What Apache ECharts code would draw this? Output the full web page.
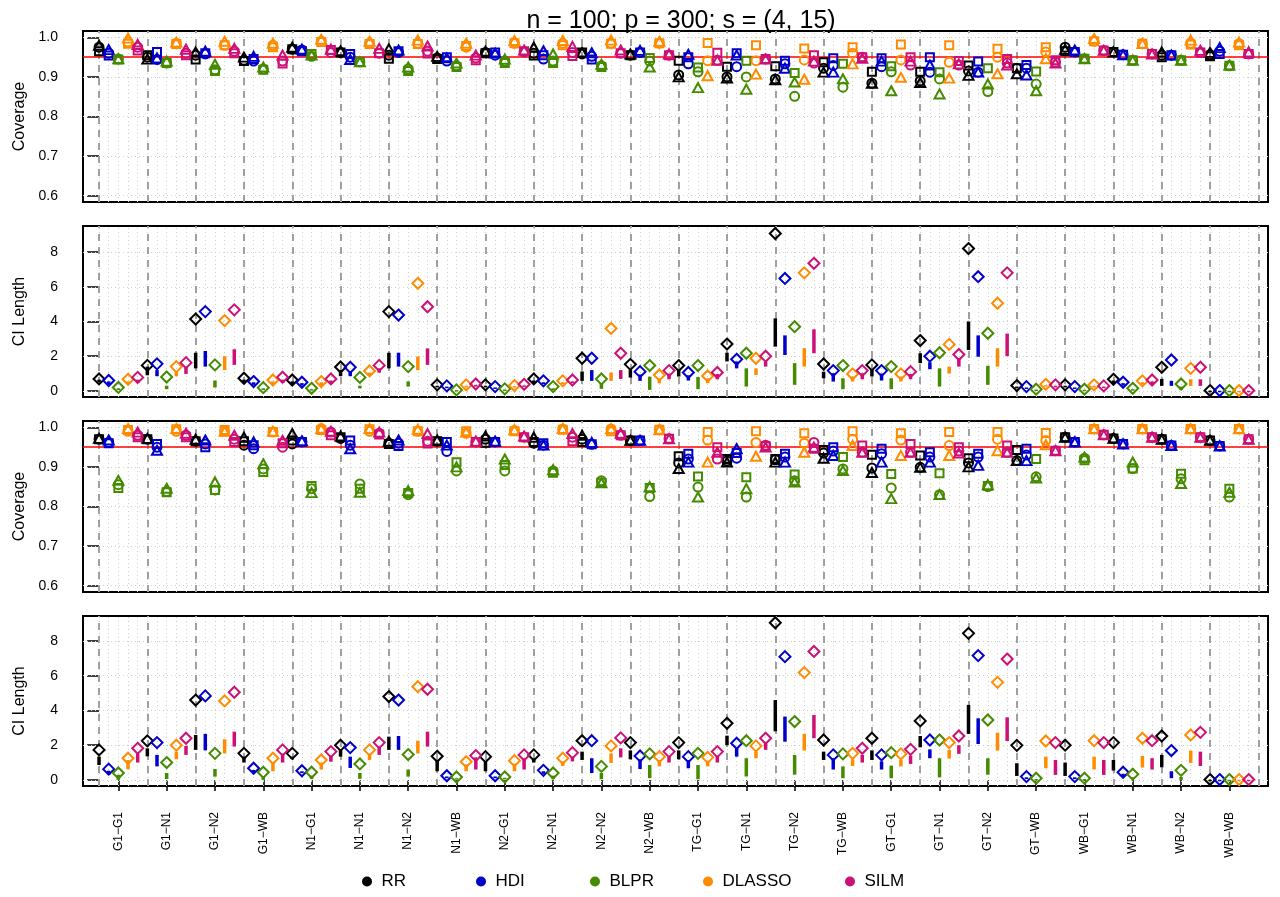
<!DOCTYPE html>
<html><head><meta charset="utf-8">
<script src="https://cdn.jsdelivr.net/npm/echarts@6/dist/echarts.min.js"></script>
<style>html,body{margin:0;padding:0;background:#fff}#chart{width:1280px;height:897px}</style>
</head><body><div id="chart"></div>
<script>
// ---------------- data ----------------
const groups = ['G1-G1','G1-N1','G1-N2','G1-WB','N1-G1','N1-N1','N1-N2','N1-WB','N2-G1','N2-N1','N2-N2','N2-WB',
  'TG-G1','TG-N1','TG-N2','TG-WB','GT-G1','GT-N1','GT-N2','GT-WB','WB-G1','WB-N1','WB-N2','WB-WB'];
const methods = ['RR','HDI','BLPR','DLASSO','SILM'];
const titleText = 'n = 100; p = 300; s = (4, 15)';
const covTicks = [0.6, 0.7, 0.8, 0.9, 1.0];
const lenTicks = [0, 2, 4, 6, 8];
const nominal = 0.95;

// rows = groups, columns = methods (RR, HDI, BLPR, DLASSO, SILM)
const covTopSquare = [
 [.965,.954,.944,.984,.967],[.955,.963,.935,.983,.955],[.944,.96,.915,.98,.96],[.94,.945,.918,.975,.934],
 [.97,.965,.958,.988,.968],[.962,.958,.938,.983,.96],[.946,.965,.915,.983,.959],[.945,.95,.925,.978,.942],
 [.96,.962,.935,.985,.965],[.954,.955,.935,.98,.953],[.962,.944,.925,.984,.96],[.955,.962,.948,.985,.955],
 [.941,.95,.924,.986,.961],[.926,.96,.941,.98,.945],[.927,.941,.91,.972,.955],[.937,.947,.933,.975,.95],
 [.913,.947,.927,.982,.95],[.913,.95,.912,.98,.94],[.929,.939,.922,.971,.945],[.922,.93,.914,.975,.942],
 [.965,.963,.946,.99,.967],[.963,.956,.942,.984,.958],[.95,.955,.942,.982,.962],[.952,.958,.928,.98,.958]];
const covTopCircle = [
 [.975,.96,.945,.988,.975],[.95,.944,.935,.985,.96],[.955,.958,.918,.98,.965],[.942,.94,.92,.98,.94],
 [.97,.968,.952,.99,.962],[.962,.95,.938,.985,.96],[.955,.962,.92,.985,.965],[.948,.94,.928,.975,.948],
 [.962,.955,.94,.985,.963],[.96,.945,.94,.985,.962],[.958,.952,.928,.985,.96],[.955,.962,.94,.985,.955],
 [.905,.933,.913,.941,.942],[.9,.926,.9,.941,.945],[.895,.933,.851,.943,.935],[.922,.929,.874,.96,.95],
 [.884,.926,.913,.943,.93],[.89,.912,.895,.937,.93],[.915,.912,.863,.95,.935],[.922,.922,.882,.963,.937],
 [.975,.963,.946,.99,.967],[.963,.956,.942,.984,.958],[.955,.955,.942,.985,.962],[.956,.965,.928,.984,.958]];
const covTopTriangle = [
 [.98,.969,.946,.998,.982],[.945,.948,.94,.988,.97],[.963,.965,.932,.99,.972],[.95,.952,.925,.985,.955],
 [.975,.97,.955,.995,.97],[.966,.944,.938,.99,.972],[.971,.968,.925,.993,.978],[.952,.948,.935,.985,.955],
 [.965,.96,.945,.992,.968],[.975,.966,.958,.992,.977],[.962,.961,.932,.993,.968],[.958,.967,.925,.99,.958],
 [.9,.957,.873,.903,.942],[.897,.955,.869,.907,.945],[.893,.922,.887,.894,.94],[.912,.912,.895,.933,.947],
 [.884,.94,.865,.899,.94],[.886,.93,.857,.897,.933],[.904,.912,.882,.908,.93],[.908,.905,.865,.946,.935],
 [.97,.968,.946,.997,.967],[.963,.956,.942,.984,.958],[.963,.955,.942,.993,.967],[.962,.974,.93,.988,.963]];

const covBotSquare = [
 [.97,.96,.847,.993,.975],[.97,.958,.836,.995,.975],[.965,.95,.842,.993,.963],[.965,.955,.887,.988,.96],
 [.967,.963,.852,.993,.98],[.975,.967,.845,.995,.982],[.958,.953,.834,.99,.959],[.965,.963,.912,.99,.963],
 [.961,.963,.905,.99,.975],[.963,.96,.885,.994,.965],[.963,.957,.86,.99,.98],[.967,.967,.847,.994,.971],
 [.927,.933,.876,.988,.95],[.92,.935,.874,.99,.952],[.92,.933,.881,.985,.946],[.943,.95,.925,.99,.954],
 [.931,.946,.882,.985,.958],[.929,.937,.884,.988,.95],[.922,.933,.852,.988,.954],[.943,.946,.92,.986,.941],
 [.975,.963,.917,.996,.981],[.972,.958,.896,.996,.975],[.97,.954,.883,.996,.975],[.967,.953,.845,.996,.97]];
const covBotCircle = [
 [.97,.962,.855,.99,.98],[.97,.95,.838,.99,.98],[.965,.958,.842,.99,.97],[.955,.946,.895,.988,.95],
 [.958,.963,.845,.997,.988],[.972,.955,.857,.99,.985],[.96,.96,.83,.99,.965],[.965,.939,.89,.985,.963],
 [.97,.963,.89,.992,.975],[.96,.955,.89,.996,.975],[.97,.957,.865,.996,.98],[.967,.967,.825,.994,.971],
 [.91,.92,.849,.968,.92],[.915,.922,.824,.962,.955],[.918,.925,.865,.96,.962],[.935,.94,.895,.97,.937],
 [.897,.933,.847,.968,.937],[.899,.925,.83,.954,.94],[.91,.925,.85,.97,.937],[.916,.93,.875,.967,.941],
 [.975,.963,.922,.996,.981],[.972,.958,.896,.996,.975],[.97,.954,.87,.996,.975],[.967,.953,.824,.996,.97]];
const covBotTriangle = [
 [.972,.968,.866,.997,.988],[.972,.942,.846,.997,.985],[.97,.968,.862,.99,.98],[.975,.963,.908,.99,.967],
 [.984,.966,.835,.997,.99],[.978,.946,.836,.997,.988],[.965,.968,.84,.995,.984],[.968,.955,.9,.988,.965],
 [.978,.965,.92,.994,.978],[.975,.955,.893,.997,.984],[.98,.962,.86,.996,.985],[.967,.967,.85,.994,.971],
 [.896,.912,.824,.912,.937],[.912,.946,.845,.927,.95],[.912,.912,.862,.937,.95],[.922,.929,.891,.954,.937],
 [.886,.912,.82,.929,.937],[.899,.912,.83,.929,.935],[.9,.904,.855,.941,.937],[.916,.916,.872,.956,.941],
 [.975,.963,.925,.996,.981],[.972,.958,.912,.996,.975],[.97,.954,.858,.996,.975],[.967,.953,.836,.996,.97]];

const lenTopMark = [
 [.69,.6,.2,.67,.78],[1.47,1.56,.8,1.4,1.63],[4.14,4.57,1.5,4.05,4.67],[.73,.54,.19,.63,.79],
 [.63,.5,.15,.54,.69],[1.38,1.36,.78,1.15,1.47],[4.57,4.37,1.4,6.2,4.85],[.35,.29,.06,.35,.4],
 [.35,.25,.12,.31,.38],[.69,.58,.25,.58,.63],[1.88,1.88,.69,3.6,2.17],[1.53,1.11,1.46,.92,1.17],
 [1.46,1.06,1.46,.86,1.06],[2.7,1.82,2.17,1.88,2.0],[9.07,6.48,3.7,6.8,7.35],[1.55,1.17,1.46,.98,1.17],
 [1.5,1.17,1.4,.98,1.11],[2.9,2.0,2.2,2.68,2.1],[8.2,6.58,3.32,5.05,6.8],[.31,.25,.1,.38,.35],
 [.35,.25,.1,.35,.29],[.67,.5,.15,.58,.63],[1.36,1.78,.4,1.3,1.36],[.02,.02,.02,.02,.02]];
const lenTopLow = [
 [.5,.35,.05,.4,.45],[.9,.85,.1,.85,.98],[1.3,1.4,.2,1.2,1.5],[.45,.35,.05,.35,.45],
 [.4,.3,.02,.3,.4],[.85,.85,.15,.9,1.05],[1.3,1.4,.25,1.2,1.5],[.2,.2,.02,.2,.25],
 [.2,.15,.02,.2,.25],[.45,.4,.05,.4,.45],[.58,.58,.12,.58,.69],[.77,.58,.06,.44,.67],
 [.83,.6,.1,.44,.67],[1.7,1.3,.25,.92,1.4],[2.55,2.07,.35,1.4,2.17],[.73,.54,.1,.54,.67],
 [.83,.6,.1,.54,.67],[1.6,1.25,.25,1.0,1.4],[2.36,1.97,.35,1.4,2.0],[.15,.15,.02,.25,.2],
 [.2,.15,.02,.2,.18],[.45,.3,.03,.38,.4],[.29,.29,.06,.29,.29],[0,0,0,0,0]];
const lenTopHigh = [
 [.65,.55,.15,.55,.65],[1.4,1.2,.3,1.15,1.4],[2.2,2.3,.6,2.0,2.4],[.65,.5,.15,.55,.65],
 [.55,.45,.1,.5,.6],[1.2,1.1,.3,1.05,1.3],[2.2,2.2,.55,1.98,2.45],[.3,.25,.05,.3,.35],
 [.3,.2,.08,.28,.32],[.6,.5,.15,.5,.55],[1.12,1.2,.44,1.06,1.2],[1.2,.95,.82,.73,1.0],
 [1.2,.9,.8,.73,.98],[2.2,1.7,1.3,1.3,1.7],[4.18,3.2,1.6,2.46,3.55],[1.11,1.02,.73,.83,1.02],
 [1.2,1.0,.73,.83,.98],[2.17,1.65,1.3,1.4,1.9],[4.0,3.2,1.45,2.46,3.3],[.25,.2,.08,.33,.3],
 [.3,.2,.07,.3,.25],[.6,.45,.1,.5,.55],[.69,.58,.25,.67,.67],[.01,.01,.01,.01,.01]];

const lenBotMark = [
 [1.73,.62,.4,1.25,1.82],[2.25,2.15,1.0,2.0,2.4],[4.6,4.84,1.53,4.55,5.05],[1.53,.67,.44,1.25,1.73],
 [1.53,.53,.44,1.15,1.63],[2.0,1.86,.92,1.73,2.15],[4.8,4.6,1.46,5.37,5.22],[1.36,.24,.17,1.05,1.4],
 [1.34,.24,.17,1.11,1.44],[1.44,.55,.4,1.25,1.57],[2.26,2.26,.78,1.96,2.42],[2.15,1.38,1.5,1.34,1.63],
 [2.15,1.34,1.53,1.3,1.63],[3.26,2.11,2.26,1.96,2.4],[9.05,7.1,3.36,6.18,7.4],[2.3,1.44,1.5,1.53,1.82],
 [2.4,1.44,1.57,1.5,1.76],[3.4,2.3,2.3,2.15,2.53],[8.44,7.16,3.45,5.62,6.96],[1.99,.19,.1,2.24,2.15],
 [2.0,.19,.1,2.26,2.15],[2.15,.44,.33,2.4,2.26],[2.53,1.69,.55,2.59,2.74],[.02,.02,.02,.02,.02]];
const lenBotLow = [
 [.86,.3,0,.62,1.0],[1.36,.78,.05,1.19,1.44],[1.73,1.7,.19,1.53,1.92],[1.0,.4,0,.5,1.0],
 [1.2,.4,.05,.6,1.05],[1.34,.69,.06,1.15,1.44],[1.73,1.73,.19,1.53,1.92],[.5,.1,.05,.5,.6],
 [.5,.1,.05,.5,.6],[1.0,.35,.05,.8,1.07],[1.15,.4,.04,.98,1.3],[1.19,.63,.1,.78,1.0],
 [1.19,.67,.04,.78,1.0],[2.0,1.34,.2,1.25,1.73],[2.8,2.2,.3,1.69,2.4],[1.15,.6,.1,.8,1.0],
 [1.15,.6,.1,.78,.92],[1.88,1.25,.15,1.23,1.5],[2.65,2.07,.3,1.69,2.24],[.23,.05,.02,.67,.29],
 [.23,.05,.02,.61,.29],[.54,.2,.05,.71,.6],[.73,.1,0,.98,.8],[0,0,0,0,0]];
const lenBotHigh = [
 [1.34,.53,.3,1.15,1.5],[1.82,1.44,.4,1.63,1.96],[2.59,2.65,.63,2.34,2.78],[1.34,.57,.2,1.0,1.5],
 [1.34,.5,.25,1.0,1.4],[1.73,1.34,.4,1.44,1.92],[2.49,2.53,.6,2.26,2.78],[1.15,.2,.1,.9,1.3],
 [1.07,.2,.12,.94,1.25],[1.25,.5,.25,1.07,1.34],[1.63,1.25,.4,1.53,1.82],[1.7,1.19,.86,1.15,1.34],
 [1.7,1.15,.86,1.11,1.4],[2.55,1.82,1.25,1.63,2.11],[4.6,3.65,1.44,2.65,3.74],[1.63,1.25,.78,1.19,1.44],
 [1.7,1.07,.82,1.15,1.4],[2.53,1.76,1.25,1.73,2.0],[4.32,3.55,1.25,2.72,3.6],[.96,.15,.05,1.34,1.15],
 [1.0,.15,.05,1.34,1.15],[1.15,.35,.15,1.38,1.25],[1.44,.5,.17,1.69,1.63],[.01,.01,.01,.01,.01]];

// ---------------- styles ----------------
const colors = ['#000000','#0000CD','#458B00','#FF8C00','#CD1076'];
const FONT = '"Liberation Sans", Arial, Helvetica, sans-serif';
const nM = methods.length, nG = groups.length;
const slot = (g, m) => g * nM + m;   // position on the shared x scale (category index)
const xMin = -1.66, xMax = 121.0;
const panels = [
  {top: 31, height: 171, kind: 'cov', name: 'Coverage', sq: covTopSquare, ci: covTopCircle, tr: covTopTriangle},
  {top: 226, height: 171, kind: 'len', name: 'CI Length', mk: lenTopMark, lo: lenTopLow, hi: lenTopHigh, ymax: 9.5},
  {top: 421, height: 171, kind: 'cov', name: 'Coverage', sq: covBotSquare, ci: covBotCircle, tr: covBotTriangle},
  {top: 616, height: 170, kind: 'len', name: 'CI Length', mk: lenBotMark, lo: lenBotLow, hi: lenBotHigh, ymax: 9.44}
];

const grid = [], xAxis = [], yAxis = [], series = [];
const groupStarts = []; for (let g = 0; g <= nG; g++) groupStarts.push(g * nM);
const allSlots = []; for (let s = 0; s <= nG * nM; s++) allSlots.push(s);
const labelSlots = groups.map((g, i) => slot(i, 2));

panels.forEach((p, pi) => {
  const isCov = p.kind === 'cov';
  const last = pi === panels.length - 1;
  grid.push({left: 83, right: 12, top: p.top, height: p.height, show: true, borderColor: '#000', borderWidth: 2, backgroundColor: 'transparent', z: 0});
  xAxis.push({
    type: 'value', gridIndex: pi, min: xMin, max: xMax, position: 'bottom',
    axisLine: {show: false}, splitLine: {show: false},
    axisTick: {show: last, customValues: labelSlots, length: 11, lineStyle: {color: '#000', width: 1.5}},
    axisLabel: {show: last, customValues: labelSlots, rotate: 90, margin: 26, fontSize: 12, color: '#000', fontFamily: FONT,
      formatter: v => { const i = Math.round((v - 2) / nM); return (groups[i] || '').replace('-', '\u2212'); }}
  });
  const ticks = isCov ? covTicks : lenTicks;
  yAxis.push({
    type: 'value', gridIndex: pi, min: isCov ? 0.584 : -0.35, max: isCov ? 1.016 : p.ymax,
    name: p.name, nameLocation: 'middle', nameGap: 55, nameTextStyle: {fontSize: 16, color: '#000', fontFamily: FONT},
    axisLine: {show: false}, splitLine: {show: false},
    axisTick: {show: true, customValues: ticks, length: 12, lineStyle: {color: '#000', width: 1.5}},
    axisLabel: {customValues: ticks, margin: 25, fontSize: 14, color: '#000', fontFamily: FONT,
      formatter: v => isCov ? v.toFixed(1) : String(Math.round(v))}
  });
  // background grid lines
  const ml = [];
  allSlots.forEach(s => ml.push({xAxis: s, lineStyle: {color: '#CFCFCF', width: 1, type: [1, 3]}}));
  ticks.forEach(t => ml.push({yAxis: t, lineStyle: {color: '#CFCFCF', width: 1, type: [1, 3]}}));
  groupStarts.forEach(s => ml.push({xAxis: s, lineStyle: {color: '#A0A0A0', width: 2, type: [7, 6]}}));
  if (isCov) ml.push({yAxis: nominal, lineStyle: {color: '#FF0000', width: 1.5, type: 'solid'}});
  series.push({
    type: 'line', name: '__grid' + pi, xAxisIndex: pi, yAxisIndex: pi, data: [], silent: true, z: 1, zlevel: 0,
    markLine: {silent: true, z: 1, symbol: ['none', 'none'], animation: false, label: {show: false}, data: ml}
  });

  methods.forEach((m, mi) => {
    const col = colors[mi];
    if (isCov) {
      [[p.sq, 'rect', [8, 8]], [p.ci, 'circle', 9], [p.tr, 'triangle', [10, 9]]].forEach(([arr, sym, size]) => {
        series.push({
          type: 'scatter', name: m, xAxisIndex: pi, yAxisIndex: pi, z: 20, animation: false,
          symbol: sym, symbolSize: size,
          itemStyle: {color: 'rgba(0,0,0,0)', borderColor: col, borderWidth: 2, opacity: 1},
          emphasis: {disabled: true},
          data: arr.map((row, gi) => [slot(gi, mi), row[mi]])
        });
      });
    } else {
      series.push({
        type: 'custom', name: m, xAxisIndex: pi, yAxisIndex: pi, z: 15, animation: false,
        itemStyle: {color: col, opacity: 1},
        data: p.lo.map((row, gi) => [slot(gi, mi), row[mi], p.hi[gi][mi]]),
        renderItem: (params, api) => {
          const a = api.coord([api.value(0), api.value(1)]);
          const b = api.coord([api.value(0), api.value(2)]);
          const w = 3.5;
          return {type: 'rect', shape: {x: a[0] - w / 2, y: b[1], width: w, height: Math.max(a[1] - b[1], 1.5)},
            style: {fill: col, stroke: null}};
        }
      });
      series.push({
        type: 'scatter', name: m, xAxisIndex: pi, yAxisIndex: pi, z: 20, animation: false,
        symbol: 'diamond', symbolSize: [11, 11],
        itemStyle: {color: 'rgba(0,0,0,0)', borderColor: col, borderWidth: 2, opacity: 1},
        emphasis: {disabled: true},
        data: p.mk.map((row, gi) => [slot(gi, mi), row[mi]])
      });
    }
  });
});

const legendCenters = [367, 481, 595, 708, 850];
const legend = methods.map((m, i) => ({
  data: [{name: m, icon: 'circle', itemStyle: {color: colors[i], borderWidth: 0, opacity: 1}}],
  left: legendCenters[i] - 5, top: 873, padding: 0, itemWidth: 19, itemHeight: 10, itemGap: 0, selectedMode: false,
  textStyle: {fontSize: 17, color: '#000', fontFamily: FONT}
}));

const chart = echarts.init(document.getElementById('chart'), null, {renderer: 'canvas'});
chart.setOption({
  backgroundColor: '#fff',
  animation: false,
  textStyle: {fontFamily: FONT},
  title: {text: titleText, left: 676, top: 4, textAlign: 'center',
    textStyle: {fontSize: 25, fontWeight: 'normal', color: '#000', fontFamily: FONT}},
  legend, grid, xAxis, yAxis, series
});
</script></body></html>
